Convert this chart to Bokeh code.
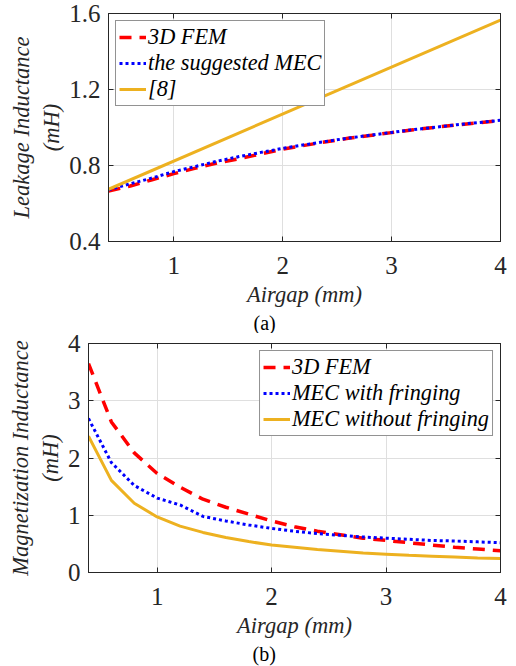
from bokeh.plotting import figure
from bokeh.models import (FixedTicker, LinearAxis, Legend, LegendItem, Title,
                          Range1d)
from bokeh.embed import file_html
from bokeh.resources import INLINE

# ---------------- data ----------------
airgap = [0.4, 0.6, 0.8, 1.0, 1.2, 1.4, 1.6, 1.8, 2.0, 2.2,
          2.4, 2.6, 2.8, 3.0, 3.2, 3.4, 3.6, 3.8, 4.0]

# (a) leakage inductance (mH)
leak_fem = [0.665, 0.692, 0.725, 0.757, 0.786, 0.814, 0.836, 0.861, 0.886, 0.906,
            0.925, 0.943, 0.958, 0.973, 0.988, 1.001, 1.014, 1.025, 1.037]
leak_mec = [0.672, 0.704, 0.734, 0.768, 0.795, 0.823, 0.847, 0.869, 0.890, 0.909,
            0.927, 0.944, 0.959, 0.974, 0.989, 1.001, 1.015, 1.026, 1.038]
ref8_x = [0.4, 4.0]
leak_ref8 = [0.675, 1.565]

# (b) magnetization inductance (mH)
mag_fem = [3.65, 2.63, 2.09, 1.73, 1.49, 1.28, 1.14, 1.02, 0.90, 0.80,
           0.72, 0.66, 0.60, 0.56, 0.52, 0.48, 0.44, 0.41, 0.38]
mag_mec_fr = [2.69, 1.92, 1.52, 1.30, 1.18, 0.98, 0.90, 0.83, 0.77, 0.72,
              0.68, 0.65, 0.62, 0.60, 0.58, 0.56, 0.55, 0.535, 0.52]
mag_mec_nofr = [2.38, 1.61, 1.21, 0.97, 0.81, 0.70, 0.61, 0.54, 0.48, 0.44,
                0.40, 0.37, 0.34, 0.32, 0.30, 0.285, 0.27, 0.255, 0.245]

x_ticks = [1, 2, 3, 4]
y_ticks_a = [0.4, 0.8, 1.2, 1.6]
y_ticks_b = [0, 1, 2, 3, 4]

legend_a = ["3D FEM", "the suggested MEC", "[8]"]
legend_b = ["3D FEM", "MEC with fringing", "MEC without fringing"]

FONT = "'Liberation Serif', 'Times New Roman', serif"
AX = "#262626"
RED = "#FF0000"
BLUE = "#0000FF"
YEL = "#EDB120"


def style_axes(p, xt, yt):
    for ax in list(p.xaxis) + list(p.yaxis):
        ax.ticker = FixedTicker(ticks=xt if ax in p.xaxis else yt)
        ax.axis_line_color = AX
        ax.major_tick_line_color = AX
        ax.major_tick_in = 5
        ax.major_tick_out = 0
        ax.minor_tick_line_color = None
        ax.major_label_text_font = FONT
        ax.major_label_text_font_size = "25px"
        ax.major_label_text_color = AX
        ax.axis_label_text_font = FONT
        ax.axis_label_text_font_size = "22.5px"
        ax.axis_label_text_font_style = "italic"
        ax.axis_label_text_color = AX
    p.xaxis[0].major_label_standoff = 15
    p.xaxis[0].axis_label_standoff = 5
    p.yaxis[0].major_label_standoff = 8
    p.yaxis[0].axis_label_standoff = 2
    # box ticks (right / top) without labels
    for side, tk in (("right", yt), ("above", xt)):
        a = LinearAxis(ticker=FixedTicker(ticks=tk))
        a.axis_line_color = AX
        a.major_tick_line_color = AX
        a.major_tick_in = 5
        a.major_tick_out = 0
        a.minor_tick_line_color = None
        a.major_label_overrides = {t: "" for t in tk}
        a.major_label_text_font_size = "1px"
        a.major_label_standoff = 0
        p.add_layout(a, side)
    p.xgrid.ticker = FixedTicker(ticks=xt)
    p.ygrid.ticker = FixedTicker(ticks=yt)
    p.xgrid.grid_line_color = "#DFDFDF"
    p.ygrid.grid_line_color = "#DFDFDF"
    p.outline_line_color = AX


def make_legend(items, loc):
    lg = Legend(items=items, location=loc)
    lg.label_text_font = FONT
    lg.label_text_font_size = "22.3px"
    lg.label_text_font_style = "italic"
    lg.label_text_color = "black"
    lg.border_line_color = AX
    lg.border_line_width = 1
    lg.background_fill_color = "white"
    lg.background_fill_alpha = 1
    lg.padding = 3
    lg.spacing = -1
    lg.margin = 7
    lg.glyph_width = 27
    lg.glyph_height = 24
    lg.label_height = 24
    lg.label_standoff = 2
    return lg


def caption(text, offset):
    return Title(text=text, align="left", offset=offset, text_font=FONT,
                 text_font_size="20px", text_font_style="normal",
                 text_color="black", standoff=0)


# ---------------- (a) ----------------
p1 = figure(width=510, height=333, output_backend="svg", toolbar_location=None,
            x_range=Range1d(0.4, 4), y_range=Range1d(0.4, 1.6),
            min_border_left=108, min_border_right=10, min_border_top=13,
            min_border_bottom=90)
r1 = p1.line(airgap, leak_fem, line_color=RED, line_width=3.5, line_dash="12 8")
r2 = p1.line(airgap, leak_mec, line_color=BLUE, line_width=3, line_dash="3 3")
r3 = p1.line(ref8_x, leak_ref8, line_color=YEL, line_width=3)
p1.xaxis.axis_label = "Airgap (mm)"
p1.yaxis.axis_label = "Leakage Inductance\n(mH)"
style_axes(p1, x_ticks, y_ticks_a)
p1.add_layout(make_legend([LegendItem(label=legend_a[0], renderers=[r1]),
                           LegendItem(label=legend_a[1], renderers=[r2]),
                           LegendItem(label=legend_a[2], renderers=[r3])],
                          "top_left"))
p1.add_layout(caption("(a)", 145), "below")

# ---------------- (b) ----------------
p2 = figure(width=510, height=333, output_backend="svg", toolbar_location=None,
            x_range=Range1d(0.4, 4), y_range=Range1d(0, 4),
            min_border_left=88, min_border_right=10, min_border_top=10,
            min_border_bottom=94)
s1 = p2.line(airgap, mag_fem, line_color=RED, line_width=3.5, line_dash="12 8")
s2 = p2.line(airgap, mag_mec_fr, line_color=BLUE, line_width=3, line_dash="3 3")
s3 = p2.line(airgap, mag_mec_nofr, line_color=YEL, line_width=3)
p2.xaxis.axis_label = "Airgap (mm)"
p2.yaxis.axis_label = "Magnetization Inductance\n(mH)"
style_axes(p2, x_ticks, y_ticks_b)
p2.add_layout(make_legend([LegendItem(label=legend_b[0], renderers=[s1]),
                           LegendItem(label=legend_b[1], renderers=[s2]),
                           LegendItem(label=legend_b[2], renderers=[s3])],
                          "top_right"))
p2.add_layout(caption("(b)", 164), "below")

open("out.html", "w").write(file_html([p1, p2], INLINE))
